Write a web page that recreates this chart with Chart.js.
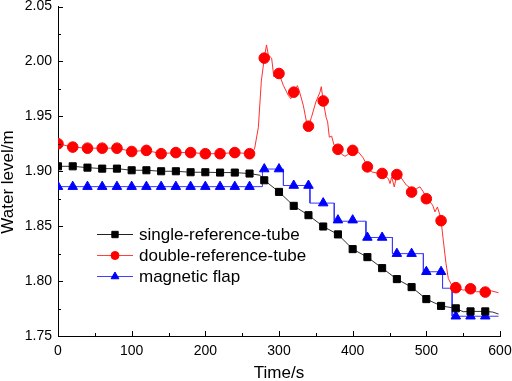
<!DOCTYPE html>
<html>
<head>
<meta charset="utf-8">
<script src="https://cdn.jsdelivr.net/npm/chart.js@4/dist/chart.umd.min.js"></script>
<style>
  html, body { margin: 0; padding: 0; background: #fff; }
  #wrap { width: 512px; height: 381px; }
</style>
</head>
<body>
<div id="wrap"><canvas id="levelGraph"></canvas></div>
<script>
// water level readings
var timeMarks = [0,20,40,60,80,100,120,140,160,180,200,220,240,260,280,300,320,340,360,380,400,420,440,460,480,500,520,540,560,580];
var singleMarks = [1.9045,1.9045,1.9033,1.9024,1.9024,1.9009,1.9009,1.9000,1.9000,1.8991,1.8991,1.8988,1.8988,1.8979,
                   1.8918,1.8812,1.8685,1.8600,1.8497,1.8425,1.8291,1.8218,1.8118,1.8018,1.7945,1.7836,1.7774,1.7752,1.7724,1.7724];
var doubleMarks = [1.925,1.922,1.921,1.921,1.921,1.918,1.919,1.916,1.917,1.917,1.916,1.916,1.917,1.916,
                   2.003,1.989,1.972,1.941,1.964,1.920,1.919,1.904,1.898,1.897,1.881,1.875,1.855,1.794,1.793,1.790];
var flapMarks = [1.886,1.886,1.886,1.886,1.886,1.886,1.886,1.886,1.886,1.886,1.886,1.886,1.886,1.886,
                 1.902,1.902,1.887,1.887,1.871,1.8555,1.8555,1.8397,1.8397,1.825,1.825,1.8085,1.8085,1.768,1.768,1.768];

// continuous recorded traces
var singleLineT = [0,20,40,60,80,100,120,140,160,180,200,220,240,260,274,280,300,320,340,360,380,400,420,440,460,480,500,520,540,550,560,580,590,598];
var singleLineV = [1.9045,1.9045,1.9033,1.9024,1.9024,1.9009,1.9009,1.9000,1.9000,1.8991,1.8991,1.8988,1.8988,1.8979,1.8964,
                   1.8918,1.8812,1.8685,1.8600,1.8497,1.8425,1.8291,1.8218,1.8118,1.8018,1.7945,1.7836,1.7774,1.7752,1.7721,1.7724,1.7724,1.7718,1.7700];

var doubleLineT = [0,20,40,60,80,100,120,140,160,180,200,220,240,260,264,267,272,276,280,283,285.5,290,293,297,300,306,312.7,316,320,325,328,333,337,340,
                   344,350,355.6,357.4,360,364,366,368.3,371.5,374.6,380,385,389.6,394,400,407.7,414.5,420,425.8,432.6,440,448.4,450.7,453,456.5,460,
                   465,469.7,473,476.5,480,487,491.4,496,500,505,508.6,511.7,515,518.5,520,523,526.7,529.8,534.4,540,550,560,568,580,588.7,598];
var doubleLineV = [1.925,1.922,1.921,1.921,1.921,1.918,1.919,1.916,1.917,1.917,1.916,1.916,1.917,1.916,1.917,1.921,1.940,1.982,2.003,2.015,2.006,2.003,1.986,1.990,1.989,1.978,1.969,1.966,1.972,1.978,1.972,1.960,1.946,1.941,
                   1.949,1.963,1.972,1.977,1.964,1.949,1.945,1.931,1.932,1.924,1.920,1.9155,1.9136,1.9155,1.919,1.9176,1.912,1.904,1.8994,1.8985,1.898,1.8933,1.8888,1.8948,1.8857,1.8973,
                   1.8948,1.8903,1.8873,1.8857,1.8812,1.8843,1.8858,1.8812,1.8752,1.8721,1.8691,1.863,1.8675,1.860,1.8552,1.8373,1.816,1.8024,1.7964,1.7943,1.7918,1.7927,1.7903,1.7903,1.791,1.7894];

var flapStepT = [0,277.5,277.5,306,306,342,342,375,375,418,418,454,454,496,496,522,522,535,535,598];
var flapStepV = [1.886,1.886,1.902,1.902,1.887,1.887,1.871,1.871,1.8545,1.8545,1.8397,1.8397,1.825,1.825,1.8085,1.8085,1.7935,1.7935,1.768,1.768];

var xTicks = [0,100,200,300,400,500,600];
var xMinor = [50,150,250,350,450,550];
var yTicks = [1.75,1.80,1.85,1.90,1.95,2.00,2.05];
var yMinor = [1.775,1.825,1.875,1.925,1.975,2.025];

var seriesNames = ["single-reference-tube","double-reference-tube","magnetic flap"];

function pairs(xs, ys){
    var out = [];
    for (var i = 0; i < xs.length; i++) out.push({x: xs[i], y: ys[i]});
    return out;
}

var FONT = '"Liberation Sans", Arial, sans-serif';

// inward tick marks, y title and the legend
var decorPlugin = {
    id: 'decor',
    afterDraw: function(chart){
        var ctx = chart.ctx, xs = chart.scales.x, ys = chart.scales.y;
        var area = chart.chartArea;
        ctx.save();
        ctx.strokeStyle = '#000';
        ctx.lineWidth = 1;
        ctx.beginPath();
        xTicks.forEach(function(v){
            var p = Math.round(xs.getPixelForValue(v)) + 0.5;
            ctx.moveTo(p, area.bottom); ctx.lineTo(p, area.bottom - 5);
        });
        xMinor.forEach(function(v){
            var p = Math.round(xs.getPixelForValue(v)) + 0.5;
            ctx.moveTo(p, area.bottom); ctx.lineTo(p, area.bottom - 3);
        });
        yTicks.forEach(function(v){
            var p = Math.round(ys.getPixelForValue(v)) + 0.5;
            ctx.moveTo(area.left, p); ctx.lineTo(area.left + 5, p);
        });
        yMinor.forEach(function(v){
            var p = Math.round(ys.getPixelForValue(v)) + 0.5;
            ctx.moveTo(area.left, p); ctx.lineTo(area.left + 3, p);
        });
        ctx.stroke();

        // y axis title
        ctx.fillStyle = '#000';
        ctx.font = '17px ' + FONT;
        ctx.textAlign = 'center';
        ctx.textBaseline = 'middle';
        ctx.save();
        ctx.translate(8, 182);
        ctx.rotate(-Math.PI / 2);
        ctx.fillText('Water level/m', 0, 0);
        ctx.restore();

        // legend
        var rows = [
            {line: '#222', fill: '#000', style: 'rect', r: 4.5},
            {line: '#ff4040', fill: '#ff0000', style: 'circle', r: 4},
            {line: '#4040ff', fill: '#0000ff', style: 'triangle', r: 4.5}
        ];
        var rowY = [234, 255, 276];
        ctx.textAlign = 'left';
        rows.forEach(function(row, i){
            var yy = rowY[i] + 0.5;
            ctx.strokeStyle = row.line;
            ctx.lineWidth = 1;
            ctx.beginPath(); ctx.moveTo(97, yy); ctx.lineTo(133, yy); ctx.stroke();
            ctx.fillStyle = row.fill;
            ctx.strokeStyle = row.fill;
            Chart.helpers.drawPoint(ctx, {pointStyle: row.style, radius: row.r, rotation: 0, borderWidth: 1}, 115, yy);
            ctx.fillStyle = '#000';
            ctx.fillText(seriesNames[i], 139, rowY[i] + 1);
        });
        ctx.restore();
    }
};

var markerBase = {showLine: false, borderWidth: 1, pointRadius: 5, pointHoverRadius: 5};

function noOverflow(s){
    s.paddingLeft = 0; s.paddingRight = 0; s.paddingTop = 0; s.paddingBottom = 0;
}

var levelConfig = {
    type: 'line',
    data: {
        datasets: [
            Object.assign({label: seriesNames[0], data: pairs(timeMarks, singleMarks), pointStyle: 'rect',
                backgroundColor: '#000', borderColor: '#000'}, markerBase),
            Object.assign({label: seriesNames[1], data: pairs(timeMarks, doubleMarks), pointStyle: 'circle',
                backgroundColor: '#ff0000', borderColor: '#ff0000'}, markerBase, {pointRadius: 5.3}),
            Object.assign({label: seriesNames[2], data: pairs(timeMarks, flapMarks), pointStyle: 'triangle',
                backgroundColor: '#0000ff', borderColor: '#0000ff'}, markerBase, {pointRadius: 5.5}),
            {label: 'single trace', data: pairs(singleLineT, singleLineV), borderColor: '#333', borderWidth: 1, pointRadius: 0, tension: 0},
            {label: 'double trace', data: pairs(doubleLineT, doubleLineV), borderColor: '#ff3030', borderWidth: 1, pointRadius: 0, tension: 0},
            {label: 'flap trace', data: pairs(flapStepT, flapStepV), borderColor: '#3a3aff', borderWidth: 1, pointRadius: 0, tension: 0}
        ]
    },
    options: {
        responsive: true,
        maintainAspectRatio: false,
        animation: false,
        layout: {padding: {top: 6, right: 12, left: 0, bottom: 0}},
        plugins: {legend: {display: false}, tooltip: {enabled: false}},
        scales: {
            x: {
                type: 'linear', min: 0, max: 600,
                afterBuildTicks: function(s){ s.ticks = xTicks.map(function(v){ return {value: v}; }); },
                afterFit: function(s){ s.height = 45; noOverflow(s); },
                grid: {display: true, drawOnChartArea: false, drawTicks: false},
                border: {display: true, color: '#000', width: 1},
                ticks: {autoSkip: false, maxRotation: 0, padding: 7, color: '#000', font: {family: FONT, size: 14}},
                title: {display: true, text: 'Time/s', color: '#000', font: {family: FONT, size: 17, lineHeight: 0.95}, padding: {top: 4, bottom: 0}}
            },
            y: {
                type: 'linear', min: 1.75, max: 2.05,
                afterBuildTicks: function(s){ s.ticks = yTicks.map(function(v){ return {value: v}; }); },
                afterFit: function(s){ s.width = 58; noOverflow(s); },
                grid: {display: true, drawOnChartArea: false, drawTicks: false},
                border: {display: true, color: '#000', width: 1},
                ticks: {autoSkip: false, padding: 6, color: '#000', font: {family: FONT, size: 14},
                    callback: function(v){ return Number(v).toFixed(2); }}
            }
        }
    },
    plugins: [decorPlugin]
};

var levelCtx = document.getElementById("levelGraph");
var levelChart = new Chart(levelCtx, levelConfig);
</script>
</body>
</html>
